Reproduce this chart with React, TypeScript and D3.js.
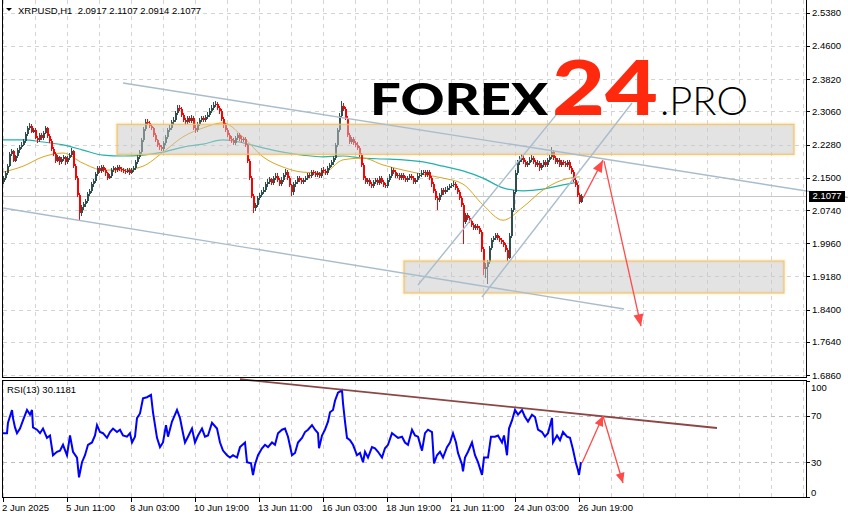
import React from 'react';
import * as d3 from 'd3';

// ---------- DATA (hours since first bar; prices) ----------
const firstOpen = 2.140;
const closes = [
  2.149, 2.160, 2.178, 2.205, 2.212, 2.190, 2.200, 2.214, 2.222, 2.228,
  2.236, 2.252, 2.266, 2.272, 2.258, 2.262, 2.244, 2.238, 2.250, 2.243,
  2.256, 2.266, 2.248, 2.236, 2.218, 2.206, 2.190, 2.198, 2.186, 2.194,
  2.198, 2.186, 2.196, 2.204, 2.213, 2.178, 2.150, 2.110, 2.068, 2.080,
  2.088, 2.096, 2.112, 2.118, 2.134, 2.142, 2.158, 2.172, 2.165, 2.174,
  2.168, 2.160, 2.150, 2.154, 2.168, 2.172, 2.167, 2.175, 2.171, 2.168,
  2.166, 2.163, 2.168, 2.162, 2.168, 2.172, 2.186, 2.198, 2.210, 2.238,
  2.265, 2.282, 2.278, 2.272, 2.266, 2.250, 2.238, 2.228, 2.222, 2.218,
  2.232, 2.246, 2.262, 2.268, 2.280, 2.286, 2.302, 2.314, 2.312, 2.298,
  2.286, 2.280, 2.290, 2.284, 2.291, 2.268, 2.262, 2.276, 2.286, 2.290,
  2.286, 2.292, 2.298, 2.308, 2.314, 2.322, 2.324, 2.314, 2.306, 2.288,
  2.274, 2.262, 2.250, 2.242, 2.238, 2.232, 2.244, 2.250, 2.242, 2.238,
  2.240, 2.226, 2.190, 2.150, 2.108, 2.078, 2.086, 2.102, 2.110, 2.116,
  2.122, 2.134, 2.140, 2.146, 2.138, 2.150, 2.155, 2.144, 2.136, 2.145,
  2.156, 2.164, 2.150, 2.132, 2.116, 2.134, 2.140, 2.150, 2.145, 2.140,
  2.145, 2.150, 2.157, 2.154, 2.163, 2.162, 2.156, 2.160, 2.155, 2.168,
  2.166, 2.162, 2.172, 2.180, 2.186, 2.196, 2.226, 2.262, 2.296, 2.318,
  2.312, 2.290, 2.250, 2.234, 2.240, 2.232, 2.228, 2.220, 2.204, 2.180,
  2.150, 2.140, 2.145, 2.136, 2.131, 2.140, 2.145, 2.138, 2.150, 2.140,
  2.133, 2.131, 2.145, 2.154, 2.168, 2.163, 2.154, 2.157, 2.150, 2.156,
  2.149, 2.145, 2.150, 2.154, 2.149, 2.140, 2.145, 2.155, 2.157, 2.162,
  2.163, 2.156, 2.164, 2.150, 2.134, 2.118, 2.102, 2.098, 2.110, 2.120,
  2.116, 2.122, 2.126, 2.130, 2.132, 2.136, 2.126, 2.116, 2.102, 2.086,
  2.046, 2.062, 2.055, 2.048, 2.039, 2.032, 2.037, 2.031, 2.022, 1.982,
  1.936, 1.940, 1.952, 1.984, 2.003, 2.008, 2.015, 2.009, 2.003, 1.998,
  1.992, 1.980, 1.962, 2.014, 2.074, 2.116, 2.162, 2.186, 2.192, 2.196,
  2.187, 2.180, 2.185, 2.192, 2.196, 2.187, 2.180, 2.185, 2.172, 2.180,
  2.186, 2.180, 2.192, 2.198, 2.210, 2.196, 2.187, 2.192, 2.180, 2.187,
  2.184, 2.180, 2.186, 2.172, 2.163, 2.145, 2.133, 2.109, 2.094, 2.1077,
];
const highs = [
  2.154, 2.166, 2.182, 2.210, 2.218, 2.216, 2.204, 2.219, 2.226, 2.234,
  2.240, 2.257, 2.272, 2.279, 2.276, 2.267, 2.266, 2.248, 2.256, 2.254,
  2.260, 2.271, 2.270, 2.252, 2.240, 2.222, 2.210, 2.203, 2.202, 2.199,
  2.203, 2.202, 2.200, 2.209, 2.220, 2.216, 2.182, 2.154, 2.114, 2.086,
  2.094, 2.101, 2.117, 2.124, 2.139, 2.148, 2.163, 2.178, 2.177, 2.179,
  2.179, 2.172, 2.164, 2.159, 2.172, 2.177, 2.176, 2.180, 2.179, 2.175,
  2.172, 2.170, 2.173, 2.172, 2.173, 2.177, 2.191, 2.203, 2.215, 2.244,
  2.270, 2.288, 2.289, 2.284, 2.277, 2.270, 2.254, 2.242, 2.232, 2.226,
  2.237, 2.251, 2.267, 2.274, 2.285, 2.292, 2.307, 2.320, 2.322, 2.316,
  2.303, 2.291, 2.295, 2.296, 2.297, 2.295, 2.273, 2.281, 2.291, 2.296,
  2.295, 2.297, 2.304, 2.313, 2.320, 2.328, 2.331, 2.329, 2.319, 2.311,
  2.292, 2.279, 2.267, 2.255, 2.248, 2.243, 2.249, 2.256, 2.255, 2.247,
  2.246, 2.245, 2.230, 2.194, 2.154, 2.112, 2.091, 2.107, 2.115, 2.121,
  2.127, 2.139, 2.146, 2.152, 2.150, 2.155, 2.161, 2.160, 2.149, 2.151,
  2.161, 2.170, 2.168, 2.154, 2.136, 2.139, 2.145, 2.155, 2.155, 2.150,
  2.150, 2.155, 2.162, 2.161, 2.168, 2.168, 2.166, 2.165, 2.164, 2.173,
  2.174, 2.171, 2.177, 2.185, 2.191, 2.201, 2.231, 2.267, 2.301, 2.330,
  2.326, 2.317, 2.295, 2.255, 2.246, 2.245, 2.237, 2.233, 2.225, 2.209,
  2.184, 2.155, 2.150, 2.150, 2.141, 2.145, 2.150, 2.150, 2.155, 2.155,
  2.145, 2.138, 2.150, 2.159, 2.174, 2.173, 2.168, 2.162, 2.162, 2.161,
  2.161, 2.154, 2.155, 2.159, 2.159, 2.154, 2.150, 2.160, 2.162, 2.167,
  2.168, 2.168, 2.169, 2.169, 2.155, 2.139, 2.123, 2.107, 2.115, 2.125,
  2.126, 2.127, 2.131, 2.135, 2.137, 2.142, 2.141, 2.131, 2.121, 2.107,
  2.090, 2.067, 2.068, 2.060, 2.053, 2.044, 2.042, 2.042, 2.036, 2.026,
  1.986, 1.950, 1.957, 1.989, 2.008, 2.014, 2.020, 2.020, 2.014, 2.008,
  2.003, 1.997, 1.985, 2.019, 2.079, 2.121, 2.167, 2.191, 2.200, 2.206,
  2.203, 2.192, 2.190, 2.198, 2.203, 2.201, 2.192, 2.191, 2.190, 2.185,
  2.191, 2.191, 2.197, 2.203, 2.222, 2.215, 2.201, 2.197, 2.197, 2.192,
  2.192, 2.189, 2.191, 2.191, 2.177, 2.168, 2.150, 2.138, 2.114, 2.1107,
];
const lows = [
  2.135, 2.144, 2.156, 2.174, 2.200, 2.186, 2.186, 2.196, 2.209, 2.218,
  2.224, 2.232, 2.248, 2.262, 2.254, 2.254, 2.240, 2.232, 2.234, 2.239,
  2.238, 2.252, 2.244, 2.231, 2.213, 2.201, 2.185, 2.186, 2.181, 2.182,
  2.189, 2.181, 2.182, 2.191, 2.199, 2.172, 2.144, 2.104, 2.050, 2.060,
  2.074, 2.082, 2.090, 2.106, 2.113, 2.128, 2.137, 2.153, 2.160, 2.160,
  2.163, 2.155, 2.144, 2.146, 2.150, 2.164, 2.162, 2.163, 2.166, 2.163,
  2.161, 2.158, 2.160, 2.157, 2.158, 2.164, 2.168, 2.182, 2.194, 2.205,
  2.233, 2.260, 2.273, 2.267, 2.261, 2.245, 2.233, 2.223, 2.216, 2.212,
  2.213, 2.227, 2.241, 2.257, 2.263, 2.275, 2.281, 2.297, 2.306, 2.293,
  2.281, 2.275, 2.276, 2.279, 2.279, 2.263, 2.255, 2.258, 2.271, 2.281,
  2.280, 2.281, 2.287, 2.293, 2.303, 2.309, 2.316, 2.309, 2.300, 2.283,
  2.268, 2.257, 2.245, 2.236, 2.232, 2.226, 2.228, 2.239, 2.237, 2.232,
  2.233, 2.221, 2.184, 2.144, 2.102, 2.068, 2.072, 2.081, 2.097, 2.105,
  2.111, 2.117, 2.129, 2.135, 2.133, 2.133, 2.145, 2.139, 2.130, 2.131,
  2.140, 2.151, 2.145, 2.127, 2.108, 2.110, 2.129, 2.135, 2.140, 2.135,
  2.134, 2.140, 2.145, 2.149, 2.149, 2.157, 2.151, 2.151, 2.150, 2.150,
  2.161, 2.157, 2.157, 2.167, 2.175, 2.181, 2.191, 2.221, 2.257, 2.291,
  2.306, 2.285, 2.245, 2.229, 2.229, 2.227, 2.223, 2.215, 2.199, 2.175,
  2.144, 2.135, 2.134, 2.131, 2.126, 2.126, 2.135, 2.133, 2.133, 2.135,
  2.128, 2.125, 2.126, 2.140, 2.149, 2.158, 2.149, 2.149, 2.145, 2.145,
  2.144, 2.140, 2.140, 2.145, 2.144, 2.135, 2.135, 2.140, 2.150, 2.152,
  2.157, 2.151, 2.151, 2.145, 2.129, 2.113, 2.097, 2.074, 2.093, 2.105,
  2.110, 2.111, 2.117, 2.121, 2.125, 2.127, 2.121, 2.111, 2.097, 2.080,
  1.995, 2.041, 2.050, 2.043, 2.034, 2.027, 2.027, 2.026, 2.017, 1.976,
  1.920, 1.914, 1.900, 1.947, 1.979, 1.998, 2.003, 2.004, 1.998, 1.993,
  1.987, 1.975, 1.955, 1.958, 2.009, 2.069, 2.111, 2.157, 2.181, 2.187,
  2.182, 2.175, 2.175, 2.180, 2.187, 2.182, 2.175, 2.175, 2.166, 2.167,
  2.175, 2.175, 2.175, 2.187, 2.193, 2.191, 2.182, 2.182, 2.175, 2.175,
  2.179, 2.175, 2.175, 2.167, 2.158, 2.140, 2.128, 2.104, 2.088, 2.0914,
];
const barStepHours = 2;

const maHours = [0, 20, 40, 60, 80, 100, 120, 140, 160, 180, 200, 220, 240, 260, 280, 300, 320, 340, 360, 380, 400, 420, 440, 460, 480, 500, 520, 540, 560, 576];
const maSlow = [2.239, 2.239, 2.234, 2.227, 2.215, 2.203, 2.201, 2.203, 2.210, 2.222, 2.229, 2.239, 2.232, 2.220, 2.210, 2.203, 2.199, 2.201, 2.196, 2.194, 2.192, 2.187, 2.177, 2.166, 2.149, 2.126, 2.119, 2.123, 2.133, 2.140];
const maFast = [2.163, 2.177, 2.199, 2.208, 2.184, 2.168, 2.168, 2.177, 2.210, 2.246, 2.267, 2.279, 2.246, 2.199, 2.175, 2.163, 2.161, 2.192, 2.196, 2.180, 2.168, 2.158, 2.149, 2.135, 2.086, 2.050, 2.081, 2.121, 2.145, 2.152];

const rsiHours = [0,4,5,9,10,12,14,17,20,24,27,29,30,34,37,40,44,47,50,54,57,60,64,67,70,74,76,79,82,85,89,92,94,97,100,104,107,110,114,117,120,124,127,129,132,134,137,140,144,148,150,152,154,157,160,163,165,169,172,174,177,180,182,185,189,192,195,199,202,205,209,214,217,220,224,227,230,234,237,242,244,248,250,252,255,259,262,265,269,272,275,279,282,285,289,292,295,299,302,305,309,312,315,316,319,322,325,327,330,332,335,339,340,342,344,347,350,354,357,360,362,365,369,372,375,379,382,385,389,392,395,399,402,405,409,412,415,419,422,425,429,431,434,437,440,444,447,450,453,455,459,460,462,465,469,472,475,479,481,485,488,492,495,499,501,504,506,509,512,515,519,522,525,529,532,535,539,542,545,549,550,554,557,560,564,567,570,573,575,576,578];
const rsiValues = [55,55,64,75,68,60,55,59,66,75,71,75,60,58,55,59,51,53,36,39,40,45,36,53,39,34,17,30,36,45,47,53,62,56,55,51,56,59,56,58,53,52,55,47,52,68,72,85,86,88,73,62,51,43,47,62,52,65,71,75,68,55,47,52,59,47,53,59,52,53,64,59,47,40,36,34,36,34,43,47,30,29,19,28,36,42,45,43,47,45,55,58,59,52,36,38,47,51,56,58,62,58,55,42,53,58,65,73,75,83,90,92,81,65,51,49,45,36,38,30,39,34,43,42,39,34,42,45,55,53,51,52,47,45,58,53,52,40,55,58,56,29,36,39,34,43,47,55,47,38,28,22,34,39,47,36,30,19,34,34,52,52,53,47,53,36,59,66,75,71,75,69,65,71,69,58,56,52,55,68,47,53,49,56,52,51,41,29,23,19,30.1];

const priceTicks = [2.538, 2.460, 2.382, 2.306, 2.228, 2.150, 2.074, 1.996, 1.918, 1.840, 1.764, 1.686];
const rsiTicks = [100, 70, 30, 0];
const rsiLevels = [70, 30];
const timeTickHours = [0, 64, 128, 192, 256, 320, 384, 448, 512, 576];
const timeTickLabels = ['2 Jun 2025', '5 Jun 11:00', '8 Jun 03:00', '10 Jun 19:00', '13 Jun 11:00', '16 Jun 03:00', '18 Jun 19:00', '21 Jun 11:00', '24 Jun 03:00', '26 Jun 19:00'];

const zones = [
  { h0: 114, h1: 791, p0: 2.2756, p1: 2.2050 },
  { h0: 401, h1: 781, p0: 1.9541, p1: 1.8788 },
];
const trendLines = [
  { h0: 120, p0: 2.3727, h1: 845, p1: 2.1034 },
  { h0: 0, p0: 2.0787, h1: 621, p1: 1.8412 },
  { h0: 415, p0: 1.8977, h1: 557, p1: 2.309 },
  { h0: 479, p0: 1.8694, h1: 629, p1: 2.3257 },
];
const forecastMain = [
  { h0: 580, p0: 2.1018, h1: 600, p1: 2.1912 },
  { h0: 601, p0: 2.1889, h1: 638, p1: 1.8007 },
];
const forecastRsi = [
  { h0: 579, v0: 29.3, h1: 600, v1: 69.8 },
  { h0: 600, v0: 69.8, h1: 620, v1: 12.1 },
];
const rsiTrend = { h0: 237, v0: 101.5, h1: 714, v1: 59.5 };
const lastPrice = 2.1077;
const headerText = 'XRPUSD,H1  2.0917 2.1107 2.0914 2.1077';
const rsiTitle = 'RSI(13) 30.1181';

const FONT = '"Liberation Sans", Arial, sans-serif';

function arrowHead(x0: number, y0: number, x1: number, y1: number, len: number, half: number) {
  const dx = x1 - x0, dy = y1 - y0;
  const L = Math.hypot(dx, dy);
  const ux = dx / L, uy = dy / L;
  const bx = x1 - ux * len, by = y1 - uy * len;
  const px = -uy, py = ux;
  return `M${x1},${y1}L${bx + px * half},${by + py * half}L${bx - px * half},${by - py * half}Z`;
}

export default function App() {
  const W = 848, H = 519;
  const left = 3, right = 806;
  const x = d3.scaleLinear().domain([0, 803]).range([left, right]);
  const y = d3.scaleLinear().domain([1.686, 2.538]).range([375, 12.7]);
  const yr = d3.scaleLinear().domain([0, 100]).range([497, 381]);

  const bars = closes.map((c, i) => {
    const o = i === 0 ? firstOpen : closes[i - 1];
    const hi = Math.max(highs[i], o, c);
    const lo = Math.min(lows[i], o, c);
    return { h: i * barStepHours, o, c, hi, lo };
  });

  const vGrid = d3.range(0, 804, 32);
  const maLine = d3.line<number>().x((_, i) => x(maHours[i])).y((d) => y(d)).curve(d3.curveMonotoneX);
  const rsiLine = d3.line<number>().x((_, i) => x(rsiHours[i])).y((d) => yr(d));

  const gridColor = '#d4d4d4';
  const arrowColor = '#ff4a4a';

  return (
    <svg width={W} height={H} style={{ position: 'absolute', left: 0, top: 0, display: 'block', background: '#fff' }} fontFamily={FONT}>
      <defs>
        <clipPath id="mainClip"><rect x={left} y={0} width={right - left} height={377} /></clipPath>
        <clipPath id="rsiClip"><rect x={left} y={381} width={right - left} height={116} /></clipPath>
        <filter id="glow" x="-5%" y="-20%" width="110%" height="140%">
          <feGaussianBlur stdDeviation="1.2" />
        </filter>
      </defs>
      <rect x={0} y={0} width={W} height={H} fill="#fff" />

      {/* grid main */}
      <g stroke={gridColor} strokeWidth={1} strokeDasharray="4,4" shapeRendering="crispEdges">
        {vGrid.map((h) => (
          <line key={'vg' + h} x1={Math.round(x(h)) + 0.5} x2={Math.round(x(h)) + 0.5} y1={0} y2={377} />
        ))}
        {priceTicks.map((p) => (
          <line key={'hg' + p} x1={left} x2={right} y1={Math.round(y(p)) + 0.5} y2={Math.round(y(p)) + 0.5} />
        ))}
        {vGrid.map((h) => (
          <line key={'vgr' + h} x1={Math.round(x(h)) + 0.5} x2={Math.round(x(h)) + 0.5} y1={381} y2={497} />
        ))}
      </g>
      <g stroke="#bdbdbd" strokeWidth={1} strokeDasharray="4,4" shapeRendering="crispEdges">
        {rsiLevels.map((v) => (
          <line key={'lv' + v} x1={left} x2={right} y1={Math.round(yr(v)) + 0.5} y2={Math.round(yr(v)) + 0.5} />
        ))}
      </g>

      {/* bid line */}
      <line x1={left} x2={right} y1={Math.round(y(lastPrice)) + 0.5} y2={Math.round(y(lastPrice)) + 0.5} stroke="#c8c8c8" strokeWidth={1} shapeRendering="crispEdges" />

      <g clipPath="url(#mainClip)">
        {/* moving averages */}
        <path d={maLine(maSlow) || ''} fill="none" stroke="#20b2aa" strokeWidth={1.2} />
        <path d={maLine(maFast) || ''} fill="none" stroke="#daa520" strokeWidth={1} />

        {/* candles */}
        <g shapeRendering="crispEdges">
          {bars.map((b, i) => {
            const xc = Math.round(x(b.h));
            const col = b.c < b.o ? '#ff0000' : '#2f4f4f';
            const yt = y(Math.max(b.o, b.c));
            const yb = y(Math.min(b.o, b.c));
            return (
              <g key={'c' + i}>
                <line x1={xc + 0.5} x2={xc + 0.5} y1={y(b.hi)} y2={y(b.lo)} stroke={col} strokeWidth={1} />
                <rect x={xc} y={yt} width={2} height={Math.max(1, yb - yt)} fill={col} />
              </g>
            );
          })}
        </g>

        {/* zones */}
        {zones.map((z, i) => (
          <g key={'z' + i}>
            <rect x={x(z.h0)} y={y(z.p0)} width={x(z.h1) - x(z.h0)} height={y(z.p1) - y(z.p0)} fill="none" stroke="#f5c24f" strokeWidth={3} opacity={0.25} filter="url(#glow)" />
            <rect x={x(z.h0)} y={y(z.p0)} width={x(z.h1) - x(z.h0)} height={y(z.p1) - y(z.p0)} fill="rgb(200,200,200)" fillOpacity={0.5} stroke="#f3c062" strokeWidth={1} />
          </g>
        ))}
      </g>

      {/* trend lines */}
      <g stroke="#a9bccb" strokeWidth={1.4} fill="none">
        {trendLines.map((t, i) => (
          <line key={'t' + i} x1={x(t.h0)} y1={y(t.p0)} x2={x(t.h1)} y2={y(t.p1)} />
        ))}
      </g>

      {/* forecast arrows main */}
      {forecastMain.map((a, i) => {
        const x0 = x(a.h0), y0 = y(a.p0), x1 = x(a.h1), y1 = y(a.p1);
        return (
          <g key={'fa' + i}>
            <line x1={x0} y1={y0} x2={x1} y2={y1} stroke={arrowColor} strokeWidth={1.3} />
            <path d={arrowHead(x0, y0, x1, y1, 12, 5)} fill={arrowColor} />
          </g>
        );
      })}

      {/* RSI */}
      <g clipPath="url(#rsiClip)">
        <path d={rsiLine(rsiValues) || ''} fill="none" stroke="#0000ff" strokeWidth={2} strokeLinejoin="miter" />
      </g>
      <line x1={x(rsiTrend.h0)} y1={yr(rsiTrend.v0)} x2={x(rsiTrend.h1)} y2={yr(rsiTrend.v1)} stroke="#8c4646" strokeWidth={1.8} />
      {forecastRsi.map((a, i) => {
        const x0 = x(a.h0), y0 = yr(a.v0), x1 = x(a.h1), y1 = yr(a.v1);
        return (
          <g key={'fr' + i}>
            <line x1={x0} y1={y0} x2={x1} y2={y1} stroke={arrowColor} strokeWidth={1.3} />
            <path d={arrowHead(x0, y0, x1, y1, 10, 4.5)} fill={arrowColor} />
          </g>
        );
      })}

      {/* logo */}
      <g>
        <text x={370} y={115} fontFamily="Lato, 'Open Sans', sans-serif" fontWeight={900} fontSize={44} fill="#000" textLength={178} lengthAdjust="spacingAndGlyphs">FOREX</text>
        <text x={552} y={115} fontFamily="Lato, 'Open Sans', sans-serif" fontWeight={900} fontSize={76} fill="#ff2a0e" textLength={106} lengthAdjust="spacingAndGlyphs">24</text>
        <text x={660} y={115} fontFamily="Lato, 'Open Sans', sans-serif" fontWeight={300} fontSize={39} fill="#000" textLength={88} lengthAdjust="spacingAndGlyphs">.PRO</text>
      </g>

      {/* frames */}
      <g stroke="#000" strokeWidth={1} fill="none" shapeRendering="crispEdges">
        <line x1={2.5} x2={2.5} y1={0} y2={377.5} />
        <line x1={806.5} x2={806.5} y1={0} y2={377.5} />
        <line x1={2} x2={807} y1={377.5} y2={377.5} />
        <rect x={2.5} y={380.5} width={804} height={116.5} />
        {priceTicks.map((p) => (
          <line key={'pt' + p} x1={806} x2={810} y1={Math.round(y(p)) + 0.5} y2={Math.round(y(p)) + 0.5} />
        ))}
        {rsiTicks.map((v) => (
          <line key={'rt' + v} x1={806} x2={810} y1={Math.round(yr(v)) + 0.5} y2={Math.round(yr(v)) + 0.5} />
        ))}
        {timeTickHours.map((h) => (
          <line key={'tt' + h} x1={Math.round(x(h)) + 0.5} x2={Math.round(x(h)) + 0.5} y1={497} y2={502} />
        ))}
      </g>

      {/* axis labels */}
      <g fontSize={9.5} fill="#000">
        {priceTicks.map((p) => (
          <text key={'pl' + p} x={812} y={y(p) + 3.5}>{p.toFixed(4)}</text>
        ))}
        {rsiTicks.map((v) => (
          <text key={'rl' + v} x={811} y={Math.min(Math.max(yr(v), 387), 492) + 3.5}>{v}</text>
        ))}
        {timeTickHours.map((h, i) => (
          <text key={'tl' + h} x={x(h) - 1} y={511}>{timeTickLabels[i]}</text>
        ))}
      </g>

      {/* last price label */}
      <rect x={809} y={Math.round(y(lastPrice)) - 5} width={36} height={11} fill="#000" />
      <text x={827} y={y(lastPrice) + 3.5} fontSize={9.5} fill="#fff" textAnchor="middle">{lastPrice.toFixed(4)}</text>

      {/* header */}
      <path d="M6,8L12,8L9,11Z" fill="#000" />
      <text x={18} y={14} fontSize={9.5} fill="#000" style={{ whiteSpace: 'pre' }}>{headerText}</text>
      <text x={7} y={393} fontSize={9.5} fill="#000">{rsiTitle}</text>
    </svg>
  );
}
